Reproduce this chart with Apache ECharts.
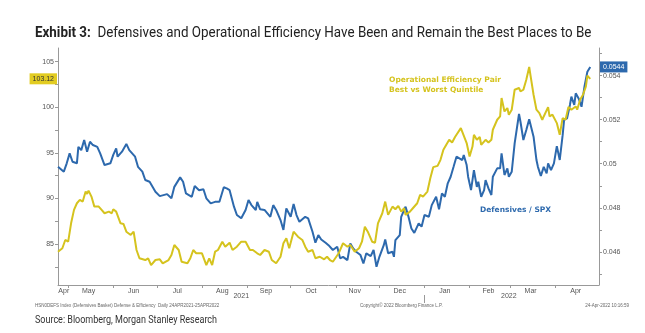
<!DOCTYPE html>
<html><head><meta charset="utf-8">
<script src="https://cdn.jsdelivr.net/npm/echarts@6/dist/echarts.min.js"></script>
<style>html,body{margin:0;padding:0;background:#fff}#c{width:645px;height:333px}</style>
</head><body><div id="c"></div>
<script>
const blueDates = ['2021-04-24','2021-04-28','2021-04-30','2021-05-02','2021-05-04','2021-05-07','2021-05-08','2021-05-10','2021-05-12','2021-05-14','2021-05-16','2021-05-18','2021-05-21','2021-05-23','2021-05-26','2021-05-30','2021-06-01','2021-06-03','2021-06-04','2021-06-07','2021-06-10','2021-06-12','2021-06-16','2021-06-18','2021-06-21','2021-06-23','2021-06-26','2021-06-30','2021-07-03','2021-07-08','2021-07-11','2021-07-13','2021-07-17','2021-07-19','2021-07-21','2021-07-25','2021-07-27','2021-07-30','2021-08-02','2021-08-04','2021-08-07','2021-08-10','2021-08-13','2021-08-16','2021-08-18','2021-08-20','2021-08-23','2021-08-25','2021-08-28','2021-08-31','2021-09-02','2021-09-04','2021-09-07','2021-09-08','2021-09-10','2021-09-13','2021-09-17','2021-09-19','2021-09-21','2021-09-24','2021-09-26','2021-09-28','2021-10-01','2021-10-03','2021-10-05','2021-10-07','2021-10-11','2021-10-13','2021-10-16','2021-10-18','2021-10-20','2021-10-22','2021-10-25','2021-10-27','2021-10-30','2021-11-02','2021-11-04','2021-11-06','2021-11-09','2021-11-11','2021-11-13','2021-11-15','2021-11-18','2021-11-20','2021-11-22','2021-11-25','2021-11-27','2021-11-29','2021-12-01','2021-12-04','2021-12-05','2021-12-07','2021-12-10','2021-12-11','2021-12-12','2021-12-15','2021-12-16','2021-12-19','2021-12-21','2021-12-23','2021-12-25','2021-12-28','2021-12-30','2022-01-01','2022-01-04','2022-01-06','2022-01-09','2022-01-11','2022-01-13','2022-01-15','2022-01-17','2022-01-19','2022-01-21','2022-01-23','2022-01-24','2022-01-27','2022-01-28','2022-01-30','2022-01-31','2022-02-02','2022-02-04','2022-02-06','2022-02-07','2022-02-09','2022-02-11','2022-02-12','2022-02-14','2022-02-16','2022-02-17','2022-02-20','2022-02-22','2022-02-23','2022-02-25','2022-02-27','2022-02-28','2022-03-02','2022-03-04','2022-03-07','2022-03-08','2022-03-10','2022-03-12','2022-03-14','2022-03-17','2022-03-19','2022-03-20','2022-03-22','2022-03-24','2022-03-26','2022-03-27','2022-03-29','2022-03-31','2022-04-02','2022-04-04','2022-04-06','2022-04-07','2022-04-09','2022-04-11','2022-04-12','2022-04-14','2022-04-15','2022-04-17','2022-04-19','2022-04-21','2022-04-23','2022-04-25'];
const blueVals = [0.04986,0.04964,0.05002,0.05047,0.05009,0.05002,0.05077,0.05062,0.05108,0.05055,0.05100,0.05085,0.05077,0.05047,0.04994,0.05002,0.05040,0.05070,0.05032,0.05055,0.05090,0.05062,0.05032,0.04986,0.04964,0.04926,0.04918,0.04873,0.04853,0.04862,0.04843,0.04895,0.04938,0.04918,0.04865,0.04850,0.04899,0.04880,0.04884,0.04843,0.04820,0.04827,0.04827,0.04893,0.04888,0.04880,0.04805,0.04767,0.04752,0.04790,0.04835,0.04812,0.04790,0.04827,0.04793,0.04790,0.04759,0.04812,0.04790,0.04744,0.04699,0.04797,0.04759,0.04817,0.04767,0.04736,0.04759,0.04752,0.04691,0.04641,0.04676,0.04656,0.04641,0.04630,0.04608,0.04623,0.04570,0.04577,0.04562,0.04638,0.04615,0.04600,0.04585,0.04547,0.04593,0.04580,0.04608,0.04532,0.04577,0.04630,0.04656,0.04593,0.04600,0.04577,0.04653,0.04676,0.04759,0.04805,0.04759,0.04706,0.04686,0.04729,0.04714,0.04767,0.04759,0.04812,0.04850,0.04793,0.04865,0.04850,0.04911,0.04941,0.04986,0.05032,0.05035,0.05017,0.05040,0.04994,0.04941,0.04880,0.04971,0.04895,0.04918,0.04850,0.04880,0.04926,0.04888,0.04858,0.04941,0.04979,0.04979,0.05047,0.04949,0.04979,0.04941,0.04964,0.05093,0.05226,0.05191,0.05108,0.05153,0.05202,0.05123,0.05017,0.04986,0.04944,0.04986,0.04956,0.05002,0.04971,0.05002,0.05080,0.05017,0.05130,0.05199,0.05206,0.05267,0.05305,0.05267,0.05320,0.05297,0.05259,0.05350,0.05418,0.0544];

const yellowDates = ['2021-04-24','2021-04-27','2021-04-29','2021-05-01','2021-05-03','2021-05-05','2021-05-07','2021-05-09','2021-05-11','2021-05-13','2021-05-14','2021-05-15','2021-05-17','2021-05-19','2021-05-22','2021-05-24','2021-05-26','2021-05-29','2021-05-31','2021-06-01','2021-06-03','2021-06-06','2021-06-08','2021-06-10','2021-06-13','2021-06-15','2021-06-17','2021-06-19','2021-06-23','2021-06-25','2021-06-27','2021-06-30','2021-07-03','2021-07-05','2021-07-09','2021-07-11','2021-07-13','2021-07-16','2021-07-18','2021-07-22','2021-07-24','2021-07-26','2021-07-28','2021-08-01','2021-08-04','2021-08-06','2021-08-08','2021-08-10','2021-08-12','2021-08-15','2021-08-17','2021-08-20','2021-08-22','2021-08-25','2021-08-28','2021-08-31','2021-09-03','2021-09-05','2021-09-08','2021-09-10','2021-09-13','2021-09-16','2021-09-18','2021-09-21','2021-09-24','2021-09-26','2021-09-28','2021-09-30','2021-10-03','2021-10-06','2021-10-09','2021-10-11','2021-10-13','2021-10-16','2021-10-18','2021-10-21','2021-10-24','2021-10-26','2021-10-28','2021-10-30','2021-11-03','2021-11-06','2021-11-09','2021-11-11','2021-11-14','2021-11-17','2021-11-19','2021-11-21','2021-11-23','2021-11-26','2021-11-28','2021-11-30','2021-12-03','2021-12-05','2021-12-07','2021-12-10','2021-12-12','2021-12-14','2021-12-16','2021-12-18','2021-12-19','2021-12-22','2021-12-24','2021-12-27','2021-12-29','2021-12-31','2022-01-03','2022-01-05','2022-01-07','2022-01-10','2022-01-12','2022-01-14','2022-01-16','2022-01-18','2022-01-20','2022-01-22','2022-01-23','2022-01-26','2022-01-27','2022-01-30','2022-02-01','2022-02-03','2022-02-04','2022-02-06','2022-02-08','2022-02-09','2022-02-12','2022-02-14','2022-02-16','2022-02-17','2022-02-20','2022-02-22','2022-02-23','2022-02-25','2022-02-27','2022-02-28','2022-03-02','2022-03-04','2022-03-07','2022-03-08','2022-03-10','2022-03-12','2022-03-14','2022-03-15','2022-03-17','2022-03-19','2022-03-21','2022-03-23','2022-03-24','2022-03-27','2022-03-28','2022-03-30','2022-04-02','2022-04-04','2022-04-06','2022-04-08','2022-04-10','2022-04-12','2022-04-15','2022-04-16','2022-04-18','2022-04-20','2022-04-22','2022-04-23','2022-04-25'];
const yellowVals = [84.15,84.53,85.44,85.25,87.27,88.74,89.47,89.84,89.65,90.75,90.49,90.86,90.20,89.10,89.10,88.74,88.37,88.55,88.37,88.81,88.55,87.27,87.20,86.35,85.99,86.35,84.34,83.43,83.24,83.43,82.69,83.24,83.32,82.88,83.24,83.79,84.89,84.34,83.05,82.88,83.43,84.34,83.98,83.98,82.69,83.43,82.69,84.15,84.34,85.25,84.70,85.14,84.34,84.70,85.25,85.25,84.34,84.34,83.98,83.79,84.34,84.15,83.24,82.88,83.60,85.08,85.63,84.53,86.35,85.80,85.44,84.70,84.15,84.34,83.43,83.60,83.32,83.60,83.24,83.05,83.98,85.08,84.70,84.89,84.15,84.53,85.25,86.90,86.35,85.25,85.14,87.27,88.37,89.65,88.19,89.10,88.81,89.18,88.55,88.92,88.19,88.55,88.92,89.47,90.38,90.20,90.75,92.22,93.43,93.57,94.23,95.33,95.88,96.43,96.13,96.73,96.98,97.71,97.89,96.07,94.59,95.69,96.98,96.43,96.73,95.88,96.43,96.13,96.43,97.53,98.63,98.99,101.01,99.54,99.91,99.18,99.73,101.92,102.11,101.74,101.92,103.02,104.42,103.38,101.37,99.73,99.36,98.63,98.99,100.02,98.99,99.18,98.26,96.98,98.81,98.63,100.02,99.73,100.09,99.73,100.82,101.37,102.29,103.46,103.12];

const monthNames = ['Apr','May','Jun','Jul','Aug','Sep','Oct','Nov','Dec','Jan','Feb','Mar','Apr'];
const monthLabelDates = ['2021-04-28','2021-05-15','2021-06-15','2021-07-15','2021-08-15','2021-09-14','2021-10-15','2021-11-14','2021-12-15','2022-01-15','2022-02-14','2022-03-15','2022-04-15'];
const monthTickDates = ['2021-05-01','2021-06-01','2021-07-01','2021-08-01','2021-09-01','2021-10-01','2021-11-01','2021-12-01','2022-01-01','2022-02-01','2022-03-01','2022-04-01'];
const yearNames = ['2021','2022'];
const yearLabelDates = ['2021-08-28','2022-02-28'];
const yearSplitDates = ['2022-01-01'];
const leftLabels = [85,90,95,100,105];
const leftTicks = [82.5,85,87.5,90,92.5,95,97.5,100,102.5,105];
const rightLabels = [0.046,0.048,0.05,0.052,0.054];
const rightTicks = [0.045,0.046,0.047,0.048,0.049,0.05,0.051,0.052,0.053,0.054,0.055];

const ts = s => Date.UTC(+s.slice(0,4), +s.slice(5,7)-1, +s.slice(8,10));
const monthMap = {}; monthLabelDates.forEach((d,i)=>{monthMap[ts(d)] = monthNames[i];});
const yearMap = {}; yearLabelDates.forEach((d,i)=>{yearMap[ts(d)] = yearNames[i];});

const BLUE = '#2d69ad', YEL = '#d5c31e';
const chart = echarts.init(document.getElementById('c'), null, {renderer:'canvas'});
const axisFont = {fontFamily:'Liberation Sans', fontSize:7, color:'#555'};
const xMin = ts('2021-04-24'), xMax = ts('2022-05-01');
const hidden = {color:'rgba(0,0,0,0)', width:0};
const lastBlue = blueVals[blueVals.length-1], lastYel = yellowVals[yellowVals.length-1];
chart.setOption({
  animation:false,
  grid:{left:58, right:46, top:48, bottom:48},
  xAxis:[{
    type:'value', min:xMin, max:xMax, scale:true,
    axisLine:{lineStyle:{color:'#999', width:1}},
    axisTick:{show:true, customValues:monthTickDates.map(ts), length:3, lineStyle:{color:'#999'}},
    axisLabel:Object.assign({customValues:monthLabelDates.map(ts), formatter:v=>monthMap[v]||'', margin:3}, axisFont),
    splitLine:{show:false}
  },{
    type:'value', position:'bottom', offset:10, min:xMin, max:xMax, scale:true,
    axisLine:{show:false},
    axisTick:{show:true, customValues:yearSplitDates.map(ts), length:8, lineStyle:{color:'#999'}},
    axisLabel:Object.assign({customValues:yearLabelDates.map(ts), formatter:v=>yearMap[v]||'', margin:-2}, axisFont),
    splitLine:{show:false}
  }],
  yAxis:[{
    type:'value', min:80.5, max:106.5, position:'left',
    axisLine:{show:true, lineStyle:{color:'#999'}},
    axisTick:{show:true, customValues:leftTicks, length:3, lineStyle:{color:'#999'}},
    axisLabel:Object.assign({customValues:leftLabels, margin:4}, axisFont),
    splitLine:{show:false}
  },{
    type:'value', min:0.04449, max:0.05526, position:'right',
    axisLine:{show:true, lineStyle:{color:'#999'}},
    axisTick:{show:true, customValues:rightTicks, length:3, lineStyle:{color:'#999'}},
    axisLabel:Object.assign({customValues:rightLabels, margin:4}, axisFont),
    splitLine:{show:false}
  }],
  series:[{
    name:'Defensives / SPX', type:'line', xAxisIndex:0, yAxisIndex:1, showSymbol:false,
    lineStyle:{color:BLUE, width:2}, itemStyle:{color:BLUE},
    data:blueDates.map((d,i)=>[ts(d), blueVals[i]]),
    markLine:{silent:true, symbol:'none', lineStyle:hidden,
      data:[[{coord:[xMin, lastBlue]}, {coord:[xMax, lastBlue]}]],
      label:{show:true, position:'end', distance:1, formatter:String(lastBlue), backgroundColor:BLUE, color:'#fff', fontSize:7, fontFamily:'Liberation Sans', padding:[2,3]}}
  },{
    name:'Operational Efficiency Pair', type:'line', xAxisIndex:0, yAxisIndex:0, showSymbol:false,
    lineStyle:{color:YEL, width:2}, itemStyle:{color:YEL},
    data:yellowDates.map((d,i)=>[ts(d), yellowVals[i]]),
    markLine:{silent:true, symbol:'none', lineStyle:hidden,
      data:[[{coord:[xMin, lastYel]}, {coord:[xMax, lastYel]}]],
      label:{show:true, position:'start', distance:1, formatter:String(lastYel), backgroundColor:'#e2cc22', color:'#333', fontSize:7, fontFamily:'Liberation Sans', padding:[2,3]}}
  }],
  graphic:[
    {type:'text', x:35, y:33, scaleX:0.957, style:{text:'{b|Exhibit 3:}  Defensives and Operational Efficiency Have Been and Remain the Best Places to Be', fontFamily:'Roboto', fontSize:14, fill:'#222', verticalAlign:'middle', rich:{b:{fontFamily:'Roboto', fontSize:14, fontWeight:'bold', fill:'#222'}}}},
    {type:'text', x:389, y:80, style:{text:'Operational Efficiency Pair', fontFamily:'DejaVu Sans', fontWeight:'bold', fontSize:7.5, fill:YEL, verticalAlign:'middle'}},
    {type:'text', x:389, y:90, style:{text:'Best vs Worst Quintile', fontFamily:'DejaVu Sans', fontWeight:'bold', fontSize:7.5, fill:YEL, verticalAlign:'middle'}},
    {type:'text', x:480, y:210, style:{text:'Defensives / SPX', fontFamily:'DejaVu Sans', fontWeight:'bold', fontSize:7.5, fill:BLUE, verticalAlign:'middle'}},
    {type:'text', x:35, y:306, style:{text:'HSN0DEFS Index (Defensives Basket) Defense & Efficiency  Daily 24APR2021-25APR2022', fontFamily:'Liberation Sans', fontSize:4.5, fill:'#666', verticalAlign:'middle'}},
    {type:'text', x:360, y:306, style:{text:'Copyright© 2022 Bloomberg Finance L.P.', fontFamily:'Liberation Sans', fontSize:4.5, fill:'#666', verticalAlign:'middle'}},
    {type:'text', x:629, y:306, style:{text:'24-Apr-2022 10:16:59', fontFamily:'Liberation Sans', fontSize:4.5, fill:'#666', align:'right', verticalAlign:'middle'}},
    {type:'text', x:35, y:320, scaleX:0.9, style:{text:'Source: Bloomberg, Morgan Stanley Research', fontFamily:'Roboto', fontSize:10, fill:'#333', verticalAlign:'middle'}}
  ]
});
</script></body></html>
